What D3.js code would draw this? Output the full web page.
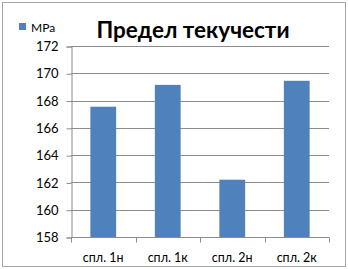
<!DOCTYPE html>
<html>
<head>
<meta charset="utf-8">
<script src="https://cdn.jsdelivr.net/npm/d3@7"></script>
<style>
  body { margin: 0; background: #fff; }
  text { font-family: Lato, "Open Sans", sans-serif; }
</style>
</head>
<body>
<div id="chart"></div>
<script>
// data
const categories = ["спл. 1н", "спл. 1к", "спл. 2н", "спл. 2к"];
const values = [167.55, 169.15, 162.2, 169.45];
const yTicks = [158, 160, 162, 164, 166, 168, 170, 172];
const seriesName = "MPa";
const title = "Предел текучести";

const W = 348, H = 269;
const mLeft = 71, mRight = 329, mTop = 46, mBottom = 237;

const svg = d3.select("#chart").append("svg")
  .attr("width", W)
  .attr("height", H);

svg.append("rect")
  .attr("x", 2.5).attr("y", 2.5)
  .attr("width", W - 5).attr("height", H - 5)
  .attr("fill", "#fff")
  .attr("stroke", "#a6a6a6");

const x = d3.scaleBand().domain(categories).range([mLeft, mRight]).paddingInner(0.6).paddingOuter(0.3);
const xOuter = d3.scaleBand().domain(categories).range([mLeft, mRight]);
const y = d3.scaleLinear().domain([158, 172]).range([mBottom, mTop]);

// gridlines
svg.append("g")
  .selectAll("line")
  .data(yTicks.slice(1))
  .enter().append("line")
  .attr("x1", mLeft).attr("x2", mRight)
  .attr("y1", d => Math.round(y(d)) + 0.5)
  .attr("y2", d => Math.round(y(d)) + 0.5)
  .attr("stroke", "#8c8c8c");

// bars
svg.append("g")
  .selectAll("rect")
  .data(values)
  .enter().append("rect")
  .attr("x", (d, i) => x(categories[i]))
  .attr("width", x.bandwidth())
  .attr("y", d => y(d))
  .attr("height", d => mBottom - y(d))
  .attr("fill", "#4f81bd");

// y axis
const yAxis = svg.append("g")
  .attr("transform", "translate(" + (mLeft + 0.5) + ",0.5)")
  .call(d3.axisLeft(y).tickValues(yTicks).tickSize(5).tickPadding(8).tickFormat(d3.format("d")));
yAxis.select(".domain").attr("stroke", "#8c8c8c");
yAxis.selectAll(".tick line").attr("stroke", "#8c8c8c");
yAxis.selectAll("text").attr("font-size", "13px").attr("fill", "#000");

// x axis
const xg = svg.append("g").attr("transform", "translate(0," + (mBottom + 0.5) + ")");
xg.append("line").attr("x1", mLeft).attr("x2", mRight).attr("stroke", "#8c8c8c");
xg.selectAll(".tk")
  .data(categories.concat(["end"]))
  .enter().append("line")
  .attr("x1", (d, i) => Math.round(mLeft + i * xOuter.step()) + 0.5)
  .attr("x2", (d, i) => Math.round(mLeft + i * xOuter.step()) + 0.5)
  .attr("y1", 0).attr("y2", 5)
  .attr("stroke", "#8c8c8c");
xg.selectAll(".lbl")
  .data(categories)
  .enter().append("text")
  .attr("x", d => xOuter(d) + xOuter.bandwidth() / 2)
  .attr("y", 24)
  .attr("text-anchor", "middle")
  .attr("font-size", "12.5px")
  .text(d => d);

// title
svg.append("text")
  .attr("x", 193).attr("y", 38)
  .attr("text-anchor", "middle")
  .attr("font-size", "22.5px")
  .attr("font-weight", "bold")
  .text(title);

// legend
svg.append("rect")
  .attr("x", 19).attr("y", 23)
  .attr("width", 7).attr("height", 7)
  .attr("fill", "#4f81bd");
svg.append("text")
  .attr("x", 31).attr("y", 32)
  .attr("font-size", "12px")
  .text(seriesName);
</script>
</body>
</html>
